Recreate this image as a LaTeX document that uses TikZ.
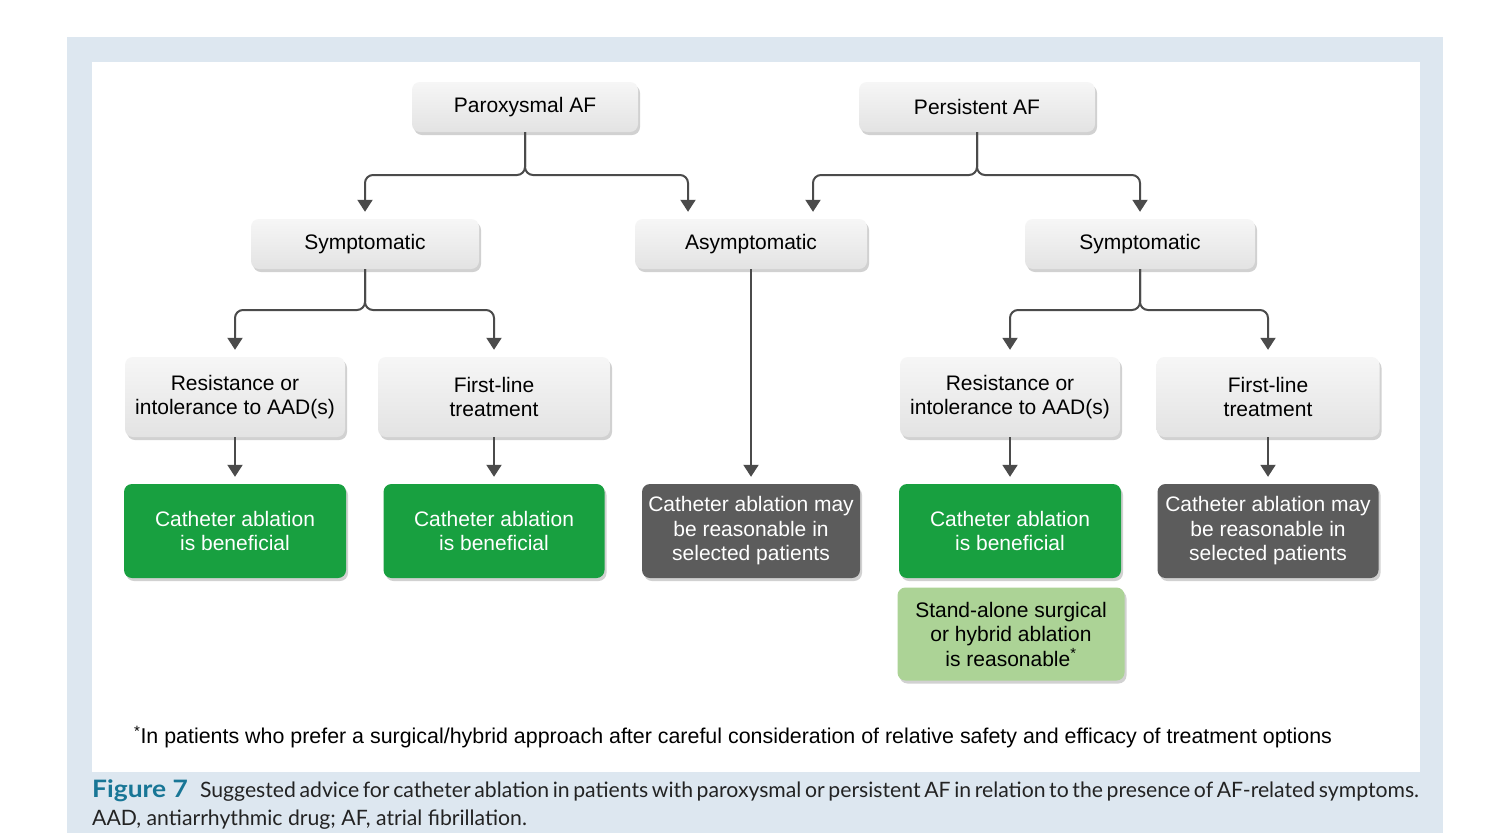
\documentclass[tikz,border=0pt]{standalone}
\usepackage{fontspec}
\setmainfont{Liberation Sans}
\newfontfamily\capfont{Lato}
\usetikzlibrary{arrows.meta,shadows}
\definecolor{panelblue}{RGB}{221,231,240}
\definecolor{boxgreen}{RGB}{24,160,64}
\definecolor{boxdark}{RGB}{92,92,92}
\definecolor{boxlight}{RGB}{172,211,150}
\definecolor{conncol}{RGB}{75,75,75}
\definecolor{figteal}{RGB}{24,118,150}
\definecolor{capgray}{RGB}{35,35,35}
\begin{document}
\begin{tikzpicture}[x=1pt,y=-1pt,
  box/.style={rounded corners=8pt, align=center, inner sep=0pt,
    font=\fontsize{21}{24.5}\selectfont,
    drop shadow={shadow xshift=2pt, shadow yshift=-3pt, opacity=0.18, fill=black}},
  greybox/.style={box, top color=gray!7, bottom color=gray!22, text=black},
  greenbox/.style={box, fill=boxgreen, text=white},
  darkbox/.style={box, fill=boxdark, text=white},
  lightbox/.style={box, fill=boxlight, text=black},
  conn/.style={draw=conncol, line width=2pt, rounded corners=8pt},
  arr/.style={conn, -{Triangle[width=15pt,length=12pt]}, shorten >=7pt},
]
\useasboundingbox (0,0) rectangle (1498,833);
\fill[panelblue] (67,37) rectangle (1443,833);
\fill[white] (92,62) rectangle (1420,772);

% row 1
\node[greybox, minimum width=226pt, minimum height=50pt] (parox) at (525,107) {Paroxysmal AF};
\node[greybox, minimum width=236pt, minimum height=50pt] (persist) at (977,107) {Persistent AF};
% row 2
\node[greybox, minimum width=228pt, minimum height=50pt] (symL) at (365,244) {Symptomatic};
\node[greybox, minimum width=232pt, minimum height=50pt] (asym) at (751,244) {Asymptomatic};
\node[greybox, minimum width=230pt, minimum height=50pt] (symR) at (1140,244) {Symptomatic};
% row 3
\node[greybox, minimum width=220pt, minimum height=80pt] (resL) at (235,397) {Resistance or\\intolerance to AAD(s)};
\node[greybox, minimum width=232pt, minimum height=80pt] (firstL) at (494,397) {First-line\\treatment};
\node[greybox, minimum width=220pt, minimum height=80pt] (resR) at (1010,397) {Resistance or\\intolerance to AAD(s)};
\node[greybox, minimum width=223pt, minimum height=80pt] (firstR) at (1268,397) {First-line\\treatment};
% row 4
\node[greenbox, minimum width=222pt, minimum height=94pt] (benL) at (235,531) {Catheter ablation\\is beneficial};
\node[greenbox, minimum width=221pt, minimum height=94pt] (benL2) at (494,531) {Catheter ablation\\is beneficial};
\node[darkbox, minimum width=218pt, minimum height=94pt] (mayM) at (751,531) {Catheter ablation may\\be reasonable in\\selected patients};
\node[greenbox, minimum width=222pt, minimum height=94pt] (benR) at (1010,531) {Catheter ablation\\is beneficial};
\node[darkbox, minimum width=221pt, minimum height=94pt] (mayR) at (1268,531) {Catheter ablation may\\be reasonable in\\selected patients};
% row 5
\node[lightbox, minimum width=227pt, minimum height=93pt] (surg) at (1011,634) {Stand-alone surgical\\or hybrid ablation\\is reasonable\textsuperscript{*}};

% connectors
\coordinate (jP) at (parox.south |- 0,175);
\coordinate (jQ) at (persist.south |- 0,175);
\coordinate (jL) at (symL.south |- 0,310);
\coordinate (jR) at (symR.south |- 0,310);
\coordinate (aInL) at ([xshift=-63pt]asym.north);
\coordinate (aInR) at ([xshift=62pt]asym.north);

\draw[arr] (parox.south) -- (jP) -| (symL.north);
\draw[arr] (parox.south) -- (jP) -| (aInL);
\draw[arr] (persist.south) -- (jQ) -| (aInR);
\draw[arr] (persist.south) -- (jQ) -| (symR.north);

\draw[arr] (symL.south) -- (jL) -| (resL.north);
\draw[arr] (symL.south) -- (jL) -| (firstL.north);
\draw[arr] (symR.south) -- (jR) -| (resR.north);
\draw[arr] (symR.south) -- (jR) -| (firstR.north);

\draw[arr] (asym.south) -- (asym.south |- mayM.north);
\draw[arr] (resL.south) -- (resL.south |- benL.north);
\draw[arr] (firstL.south) -- (firstL.south |- benL2.north);
\draw[arr] (resR.south) -- (resR.south |- benR.north);
\draw[arr] (firstR.south) -- (firstR.south |- mayR.north);

% footnote
\node[anchor=west, inner sep=0pt, font=\fontsize{21.4}{25}\selectfont] (foot) at (134,737)
  {\textsuperscript{*}In patients who prefer a surgical/hybrid approach after careful consideration of relative safety and efficacy of treatment options};

% caption
\node[anchor=west, inner sep=0pt, text=capgray, font=\capfont\fontsize{21.2}{26}\selectfont] (cap1) at (92,791)
  {\makebox[1326pt][s]{{\color{figteal}\bfseries\fontsize{24}{26}\selectfont\scalebox{1.1}[1]{Figure 7}}\hspace{0.4em} Suggested advice for catheter ablation in patients with paroxysmal or persistent AF in relation to the presence of AF-related symptoms.}};
\node[anchor=west, inner sep=0pt, text=capgray, font=\capfont\fontsize{21.2}{26}\selectfont] (cap2) at (92,820)
  {AAD, antiarrhythmic drug; AF, atrial fibrillation.};
\end{tikzpicture}
\end{document}
